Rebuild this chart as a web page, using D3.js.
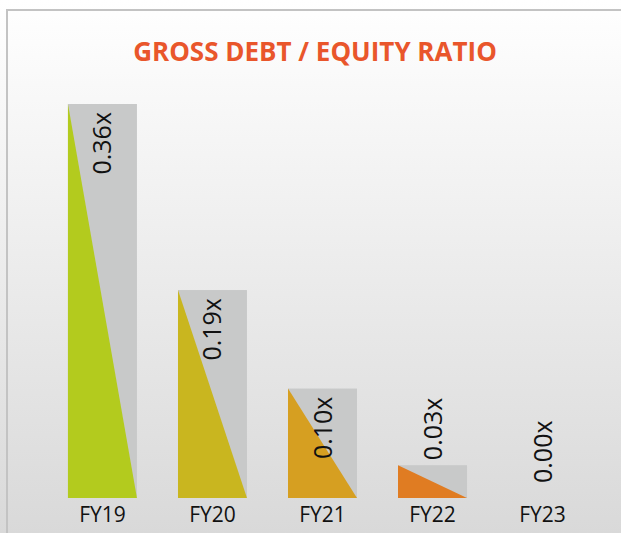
<!DOCTYPE html>
<html>
<head>
<meta charset="utf-8">
<script src="https://cdn.jsdelivr.net/npm/d3@7"></script>
<style>
  html, body { margin: 0; padding: 0; background: #fff; }
  svg { display: block; }
</style>
</head>
<body>
<div id="chart"></div>
<script>
var years = ["FY19", "FY20", "FY21", "FY22", "FY23"];
var ratios = [0.36, 0.19, 0.10, 0.03, 0.00];
var labels = ["0.36x", "0.19x", "0.10x", "0.03x", "0.00x"];
var barColors = ["#b3cb1e", "#c9b61f", "#d69f21", "#e07c22", "#e07c22"];

var W = 621, H = 533;
var baseline = 498;

var svg = d3.select("#chart")
  .append("svg")
    .attr("width", W)
    .attr("height", H);

// background: soft vertical gradient, as in the slide
var grad = svg.append("defs").append("linearGradient")
    .attr("id", "bg")
    .attr("x1", 0).attr("y1", 0).attr("x2", 0).attr("y2", 1);
grad.append("stop").attr("offset", "0%").attr("stop-color", "#ffffff");
grad.append("stop").attr("offset", "100%").attr("stop-color", "#d9d9d9");

svg.append("rect")
    .attr("x", 0).attr("y", 0)
    .attr("width", W).attr("height", H)
    .attr("fill", "url(#bg)");

// frame line (top and left visible)
svg.append("path")
    .attr("d", "M7," + H + " V10 H" + W)
    .attr("fill", "none")
    .attr("stroke", "#c3c3c3")
    .attr("stroke-width", 2);

// title
svg.append("text")
    .attr("x", 315)
    .attr("y", 61)
    .attr("text-anchor", "middle")
    .style("font-family", "'Open Sans', sans-serif")
    .style("font-weight", "bold")
    .style("font-size", "26px")
    .style("fill", "#e9562b")
    .text("GROSS DEBT / EQUITY RATIO");

// scales
var x = d3.scaleBand()
  .domain(years)
  .range([47.5, 597.5])
  .paddingInner(0.373)
  .paddingOuter(0.186);

var y = d3.scaleLinear()
  .domain([0, 0.36])
  .range([baseline, 104]);

var data = years.map(function(d, i) {
  return { year: d, value: ratios[i], label: labels[i], color: barColors[i] };
});

var bars = svg.append("g").selectAll("g")
  .data(data)
  .enter().append("g");

// grey full bar
bars.filter(function(d) { return d.value > 0; })
  .append("rect")
    .attr("x", function(d) { return x(d.year); })
    .attr("y", function(d) { return y(d.value); })
    .attr("width", x.bandwidth())
    .attr("height", function(d) { return baseline - y(d.value); })
    .attr("fill", "#c8c9c9");

// coloured triangle: top-left, bottom-left, bottom-right
bars.filter(function(d) { return d.value > 0; })
  .append("path")
    .attr("d", function(d) {
      var x0 = x(d.year), x1 = x0 + x.bandwidth(), yt = y(d.value);
      return "M" + x0 + "," + yt + " L" + x0 + "," + baseline + " L" + x1 + "," + baseline + " Z";
    })
    .attr("fill", function(d) { return d.color; });

// value labels (rotated) - inside the tall bars, above the short ones
function isInside(d) { return (baseline - y(d.value)) > 80; }

bars.append("text")
    .attr("transform", function(d) {
      var cx = x(d.year) + x.bandwidth() / 2;
      var yy;
      if (isInside(d)) yy = y(d.value) + 8;
      else if (d.value > 0) yy = y(d.value) - 5;
      else yy = y(d.value) - 15;
      return "translate(" + cx + "," + yy + ") rotate(-90)";
    })
    .attr("text-anchor", function(d) { return isInside(d) ? "end" : "start"; })
    .attr("dy", "0.36em")
    .style("font-family", "'Open Sans', sans-serif")
    .style("font-size", "25px")
    .style("fill", "#111")
    .text(function(d) { return d.label; });

// category axis labels
svg.append("g").selectAll("text")
  .data(years)
  .enter().append("text")
    .attr("x", function(d) { return x(d) + x.bandwidth() / 2; })
    .attr("y", 522)
    .attr("text-anchor", "middle")
    .style("font-family", "'Open Sans', sans-serif")
    .style("font-size", "21px")
    .style("fill", "#111")
    .text(function(d) { return d; });
</script>
</body>
</html>
